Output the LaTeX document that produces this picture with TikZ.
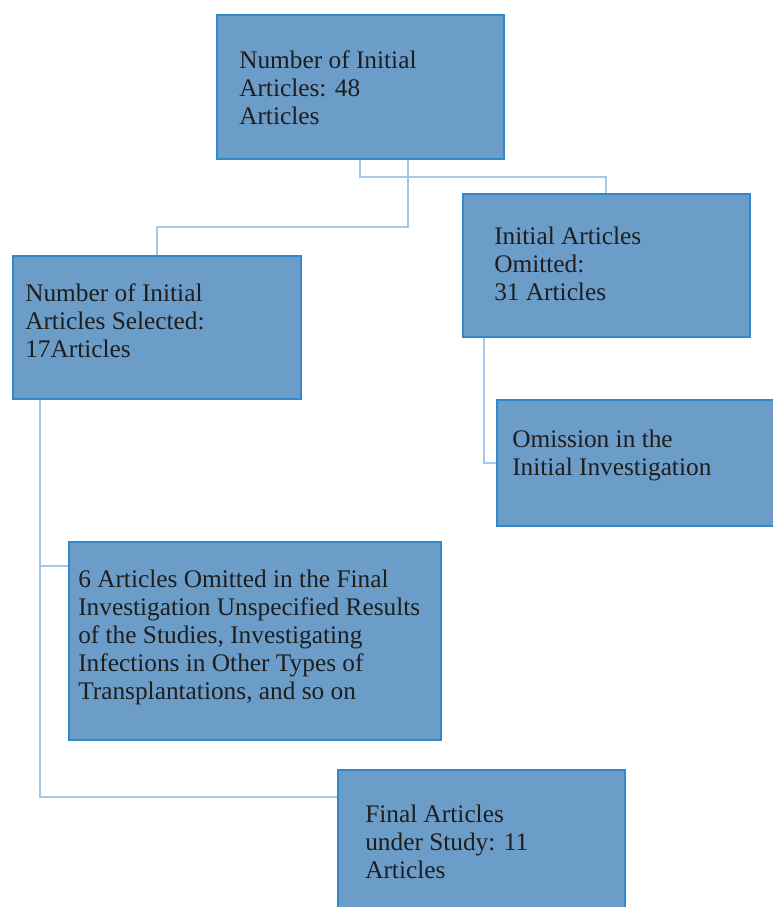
\documentclass[tikz,border=0pt]{standalone}
\usepackage{fontspec}
\setmainfont{Liberation Serif}
\usetikzlibrary{calc}
\definecolor{boxfill}{HTML}{6B9DC8}
\definecolor{boxborder}{HTML}{2F8ACB}
\definecolor{linkline}{HTML}{A4C9EA}
\definecolor{textdark}{HTML}{1E1E1E}
\tikzset{
  stagebox/.style={rectangle, anchor=north west, fill=boxfill, draw=boxborder, line width=1.3pt, inner sep=0pt},
  stagetext/.style={anchor=north west, align=left, inner sep=0pt, text=textdark, font=\fontsize{19}{21}\selectfont},
  link/.style={draw=linkline, line width=1.6pt}
}
\begin{document}
\begin{tikzpicture}[x=0.75pt, y=-0.75pt]
\useasboundingbox (0,0) rectangle (772,907);

% boxes
\node[stagebox, minimum width=287*0.75pt, minimum height=144*0.75pt] (initial) at (216,14) {};
\node[stagebox, minimum width=288*0.75pt, minimum height=143*0.75pt] (selected) at (12,255) {};
\node[stagebox, minimum width=287*0.75pt, minimum height=143*0.75pt] (omitted) at (462,193) {};
\node[stagebox, minimum width=290*0.75pt, minimum height=126*0.75pt] (omission) at (496,399) {};
\node[stagebox, minimum width=372*0.75pt, minimum height=198*0.75pt] (finalout) at (68,541) {};
\node[stagebox, minimum width=287*0.75pt, minimum height=150*0.75pt] (final) at (337,769) {};

% texts
\node[stagetext] (initialtxt) at ([shift={(23,36)}]initial.north west) {Number of Initial\\Articles: 48\\Articles};
\node[stagetext] (selectedtxt) at ([shift={(13,28)}]selected.north west) {Number of Initial\\Articles Selected:\\17Articles};
\node[stagetext] (omittedtxt) at ([shift={(32,34)}]omitted.north west) {Initial Articles\\Omitted:\\31 Articles};
\node[stagetext] (omissiontxt) at ([shift={(16,31)}]omission.north west) {Omission in the\\Initial Investigation};
\node[stagetext] (finalouttxt) at ([shift={(10,29)}]finalout.north west) {6 Articles Omitted in the Final\\Investigation Unspecified Results\\of the Studies, Investigating\\Infections in Other Types of\\Transplantations, and so on};
\node[stagetext] (finaltxt) at ([shift={(28,36)}]final.north west) {Final Articles\\under Study: 11\\Articles};

% connectors
\coordinate (splitleft) at ($(initial.south)+(48,0)$);
\coordinate (trunk) at ($(selected.south west)+(28,0)$);
\coordinate (omitdrop) at ($(omitted.south west)+(22,0)$);

\draw[link] (initial.south) -- ++(0,17) -| (omitted.north);
\draw[link] (splitleft) -- ++(0,67) -| (selected.north);
\draw[link] (trunk) |- ($(final.north west)+(0,28)$);
\draw[link] (trunk |- finalout.north west) ++(0,25) coordinate (branch) -- (branch -| finalout.west);
\draw[link] (omitdrop) |- (omission.west);

\end{tikzpicture}
\end{document}
